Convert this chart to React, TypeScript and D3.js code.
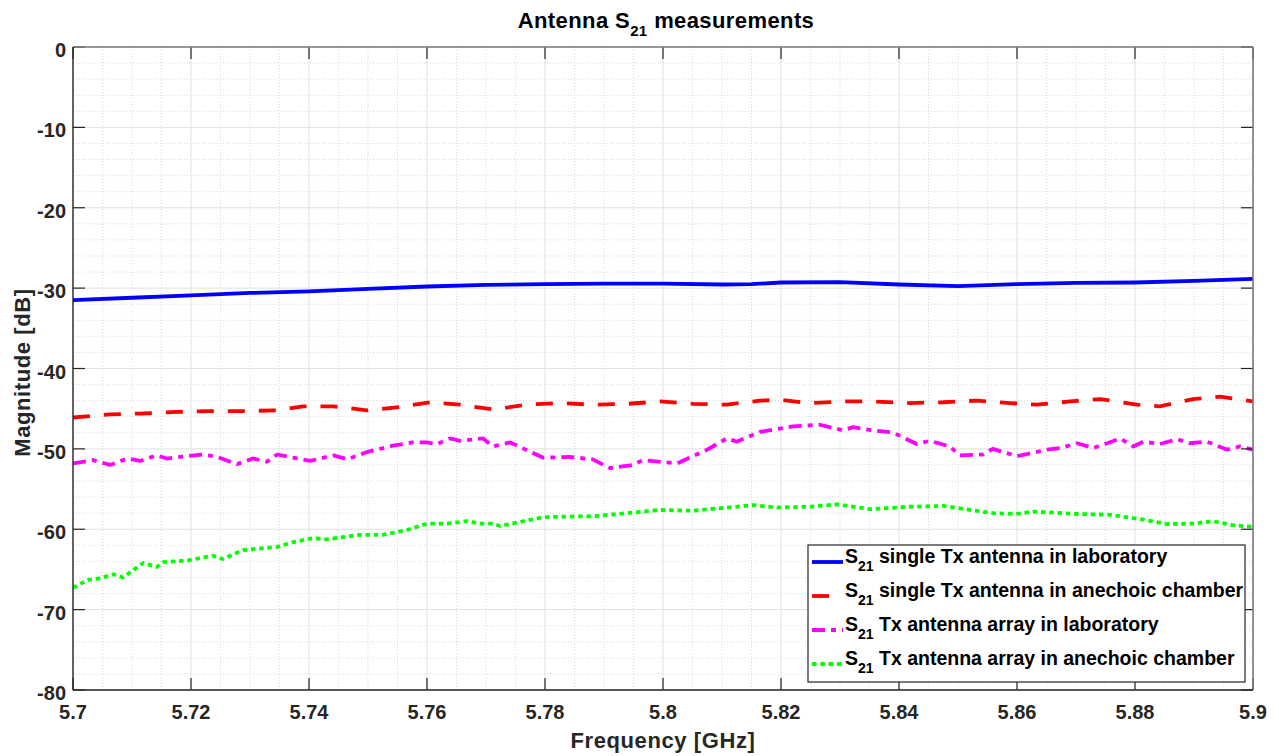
import * as d3 from "d3";

// Frequency [GHz] / magnitude [dB]
const blueF = [5.7, 5.71, 5.72, 5.73, 5.74, 5.75, 5.76, 5.77, 5.78, 5.79, 5.8, 5.81, 5.815, 5.82, 5.83, 5.84, 5.85, 5.86, 5.87, 5.88, 5.89, 5.9];
const blueDb = [-31.5, -31.2, -30.9, -30.6, -30.4, -30.1, -29.8, -29.6, -29.5, -29.45, -29.45, -29.55, -29.5, -29.3, -29.25, -29.55, -29.75, -29.5, -29.35, -29.3, -29.1, -28.85];

const redF = [5.7, 5.7063, 5.7119, 5.7176, 5.7232, 5.7288, 5.7346, 5.739, 5.7441, 5.7498, 5.7554, 5.7605, 5.7656, 5.7712, 5.7769, 5.7825, 5.7881, 5.7939, 5.7995, 5.8051, 5.8108, 5.8164, 5.8198, 5.8249, 5.8305, 5.8356, 5.8419, 5.8475, 5.8532, 5.8588, 5.8634, 5.869, 5.8741, 5.8803, 5.8842, 5.8898, 5.8944, 5.9];
const redDb = [-46.1, -45.7, -45.6, -45.4, -45.3, -45.3, -45.2, -44.7, -44.7, -45.2, -44.8, -44.2, -44.5, -45.1, -44.5, -44.3, -44.5, -44.4, -44.1, -44.4, -44.5, -44.0, -43.9, -44.3, -44.1, -44.1, -44.3, -44.2, -44.0, -44.3, -44.5, -44.1, -43.8, -44.5, -44.7, -43.8, -43.5, -44.1];

const magF = [5.7, 5.7034, 5.7063, 5.7092, 5.7114, 5.7142, 5.7159, 5.7193, 5.722, 5.7244, 5.7278, 5.7305, 5.7329, 5.7346, 5.7373, 5.7402, 5.7441, 5.7465, 5.7498, 5.7542, 5.7576, 5.7600, 5.7617, 5.7639, 5.7656, 5.7695, 5.7712, 5.7741, 5.7797, 5.7842, 5.7881, 5.7910, 5.7949, 5.7966, 5.8024, 5.8051, 5.8075, 5.8108, 5.8125, 5.8164, 5.822, 5.8266, 5.8305, 5.8322, 5.8356, 5.8390, 5.843, 5.8452, 5.8486, 5.8503, 5.8542, 5.8559, 5.8600, 5.8651, 5.8673, 5.8702, 5.8729, 5.8753, 5.8775, 5.8797, 5.8814, 5.8842, 5.8871, 5.8893, 5.8922, 5.8956, 5.8978, 5.9];
const magDb = [-51.8, -51.4, -52.0, -51.2, -51.5, -50.8, -51.2, -50.9, -50.7, -51.0, -51.9, -51.2, -51.6, -50.7, -51.1, -51.5, -50.8, -51.3, -50.4, -49.6, -49.2, -49.2, -49.4, -48.7, -49.0, -48.7, -49.7, -49.2, -51.1, -51.0, -51.3, -52.4, -52.0, -51.4, -51.8, -50.9, -50.1, -48.7, -49.1, -47.9, -47.2, -47.0, -47.7, -47.3, -47.7, -47.97, -49.4, -49.0, -49.7, -50.8, -50.7, -50.0, -50.9, -50.1, -49.9, -49.3, -49.9, -49.3, -48.7, -49.7, -49.1, -49.4, -48.8, -49.3, -49.1, -50.1, -49.7, -50.1];

const greenF = [5.7, 5.7025, 5.7047, 5.7068, 5.7085, 5.7098, 5.7119, 5.7142, 5.7153, 5.7193, 5.7237, 5.7254, 5.7288, 5.7346, 5.7373, 5.7407, 5.7430, 5.7486, 5.7525, 5.7566, 5.7600, 5.7634, 5.7668, 5.7690, 5.7712, 5.7724, 5.7797, 5.7854, 5.7881, 5.7939, 5.7995, 5.8051, 5.8108, 5.8153, 5.8193, 5.8249, 5.8295, 5.8351, 5.8418, 5.8475, 5.8503, 5.8559, 5.8598, 5.8627, 5.8702, 5.8758, 5.8814, 5.8854, 5.8898, 5.8932, 5.8966, 5.9];
const greenDb = [-67.3, -66.3, -66.1, -65.6, -66.0, -65.3, -64.2, -64.7, -64.1, -63.9, -63.3, -63.7, -62.6, -62.2, -61.6, -61.1, -61.25, -60.7, -60.7, -60.1, -59.3, -59.3, -59.0, -59.3, -59.3, -59.6, -58.5, -58.4, -58.4, -58.0, -57.6, -57.7, -57.3, -57.0, -57.3, -57.2, -56.9, -57.5, -57.2, -57.1, -57.4, -58.0, -58.1, -57.8, -58.1, -58.2, -58.8, -59.35, -59.3, -59.0, -59.5, -59.7];

const xTicks = [5.7, 5.72, 5.74, 5.76, 5.78, 5.8, 5.82, 5.84, 5.86, 5.88, 5.9];
const yTicks = [0, -10, -20, -30, -40, -50, -60, -70, -80];

const legendLabels = [
  "single Tx antenna in laboratory",
  "single Tx antenna in anechoic chamber",
  "Tx antenna array in laboratory",
  "Tx antenna array in anechoic chamber",
];

const W = 1279, H = 756;
const m = { left: 73, right: 26, top: 47, bottom: 66 };
const FONT = "'Liberation Sans', Arial, Helvetica, sans-serif";

const x = d3.scaleLinear().domain([5.7, 5.9]).range([m.left, W - m.right]);
const y = d3.scaleLinear().domain([-80, 0]).range([H - m.bottom, m.top]);

const series = [
  { f: blueF, db: blueDb, color: "#0000ff", dash: "none" },
  { f: redF, db: redDb, color: "#ff0000", dash: "17 14" },
  { f: magF, db: magDb, color: "#ff00ff", dash: "13 6 5 6" },
  { f: greenF, db: greenDb, color: "#00ff00", dash: "4.5 3.8" },
];

const lineGen = d3.line<[number, number]>()
  .x(d => x(d[0]))
  .y(d => y(d[1]));

export default function App() {
  const [x0, x1] = x.range();
  const [y0, y1] = y.range(); // y0 bottom, y1 top
  const xMinor = d3.range(5.7, 5.9001, 0.005).filter((_, i) => i % 4 !== 0);
  const yMinor = d3.range(-80, 0.001, 2).filter(v => v % 10 !== 0);
  const tick = 12;

  const lgX = 808, lgY = 545, lgW = 437, lgH = 137;
  const rowY = [562, 596, 630, 664];

  return (
    <svg width={W} height={H} style={{ position: "absolute", left: 0, top: 0, background: "#fff" }}>
      <rect x={0} y={0} width={W} height={H} fill="#fff" />
      {/* minor grid */}
      <g stroke="#d9d9d9" strokeWidth={1} strokeDasharray="1 2">
        {xMinor.map(v => <line key={"xm" + v} x1={x(v)} x2={x(v)} y1={y1} y2={y0} />)}
        {yMinor.map(v => <line key={"ym" + v} x1={x0} x2={x1} y1={y(v)} y2={y(v)} />)}
      </g>
      {/* major grid */}
      <g stroke="#e1e1e1" strokeWidth={1}>
        {xTicks.map(v => <line key={"xg" + v} x1={x(v)} x2={x(v)} y1={y1} y2={y0} />)}
        {yTicks.map(v => <line key={"yg" + v} x1={x0} x2={x1} y1={y(v)} y2={y(v)} />)}
      </g>

      {/* data */}
      <g clipPath="url(#plotclip)">
        {series.map((s, i) => (
          <path key={i}
            d={lineGen(s.f.map((f, j) => [f, s.db[j]] as [number, number])) || ""}
            fill="none" stroke={s.color} strokeWidth={3.8}
            strokeDasharray={s.dash} strokeLinejoin="round" />
        ))}
      </g>
      <defs>
        <clipPath id="plotclip"><rect x={x0} y={y1} width={x1 - x0} height={y0 - y1} /></clipPath>
      </defs>

      {/* box and ticks */}
      <g stroke="#262626" strokeWidth={1.2}>
        {xTicks.map(v => (
          <g key={"xt" + v}>
            <line x1={x(v)} x2={x(v)} y1={y0} y2={y0 - tick} />
            <line x1={x(v)} x2={x(v)} y1={y1} y2={y1 + tick} />
          </g>
        ))}
        {yTicks.map(v => (
          <g key={"yt" + v}>
            <line x1={x0} x2={x0 + tick} y1={y(v)} y2={y(v)} />
            <line x1={x1} x2={x1 - tick} y1={y(v)} y2={y(v)} />
          </g>
        ))}
      </g>
      <line x1={x0} x2={x1} y1={y1} y2={y1} stroke="#7a7a7a" strokeWidth={1.6} />
      <line x1={x1} x2={x1} y1={y1} y2={y0} stroke="#7a7a7a" strokeWidth={1.6} />
      <line x1={x0} x2={x0} y1={y1} y2={y0} stroke="#262626" strokeWidth={1.4} />
      <line x1={x0} x2={x1} y1={y0} y2={y0} stroke="#262626" strokeWidth={1.4} />

      {/* tick labels */}
      <g fontFamily={FONT} fontWeight="bold" fontSize={20} fill="#262626">
        {yTicks.map(v => (
          <text key={"yl" + v} x={x0 - 7} y={y(v) + 10} textAnchor="end">{v}</text>
        ))}
        {xTicks.map(v => (
          <text key={"xl" + v} x={x(v)} y={719} textAnchor="middle">{d3.format("~g")(v)}</text>
        ))}
      </g>

      {/* axis labels */}
      <text x={(x0 + x1) / 2} y={748} textAnchor="middle" fontFamily={FONT} fontWeight="bold" fontSize={22} letterSpacing={0.6} fill="#262626">Frequency [GHz]</text>
      <text transform={`translate(30, ${(y0 + y1) / 2 + 4}) rotate(-90)`} textAnchor="middle" fontFamily={FONT} fontWeight="bold" fontSize={22} letterSpacing={0.6} fill="#262626">Magnitude [dB]</text>

      {/* title */}
      <text x={(x0 + x1) / 2 + 3} y={28} textAnchor="middle" fontFamily={FONT} fontWeight="bold" fontSize={22} letterSpacing={0.4} fill="#000">
        Antenna S<tspan fontSize={15} dy={8}>21</tspan><tspan dy={-8}>  measurements</tspan>
      </text>

      {/* legend */}
      <rect x={lgX} y={lgY} width={lgW} height={lgH} fill="#fff" stroke="#262626" strokeWidth={1.2} />
      {series.map((s, i) => (
        <g key={"lg" + i}>
          <line x1={lgX + 4} x2={lgX + 35} y1={rowY[i]} y2={rowY[i]} stroke={s.color} strokeWidth={3.8} strokeDasharray={s.dash} />
          <text x={lgX + 37} y={rowY[i] + 1} fontFamily={FONT} fontWeight="bold" fontSize={19.5} fill="#000">
            S<tspan fontSize={14} dy={8}>21</tspan><tspan dy={-8}> {legendLabels[i]}</tspan>
          </text>
        </g>
      ))}
    </svg>
  );
}
